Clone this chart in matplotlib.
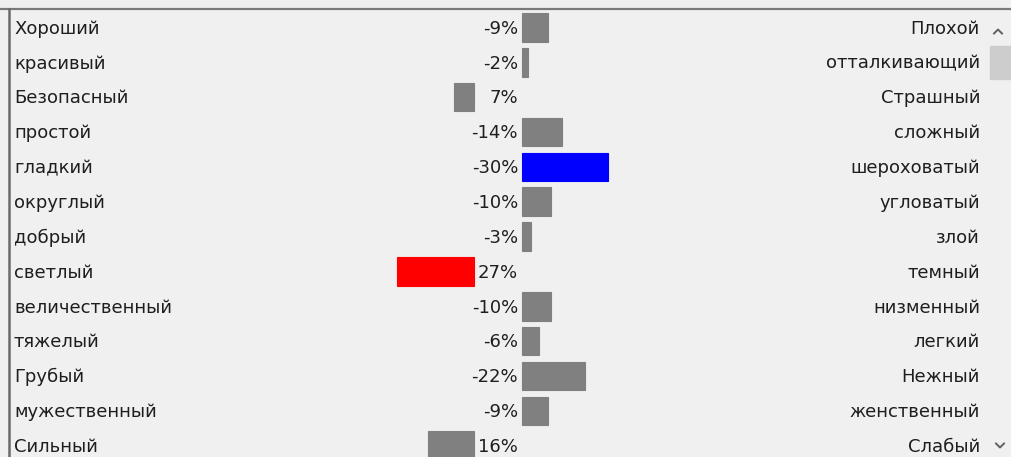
import numpy as np
import matplotlib.pyplot as plt
from matplotlib.transforms import blended_transform_factory

left_labels = ["Хороший", "красивый", "Безопасный", "простой", "гладкий", "округлый",
               "добрый", "светлый", "величественный", "тяжелый", "Грубый",
               "мужественный", "Сильный"]
right_labels = ["Плохой", "отталкивающий", "Страшный", "сложный", "шероховатый",
                "угловатый", "злой", "темный", "низменный", "легкий", "Нежный",
                "женственный", "Слабый"]
values = [-9, -2, 7, -14, -30, -10, -3, 27, -10, -6, -22, -9, 16]

W, H = 1011, 457
BG = "#f0f0f0"
GAP = 17  # space (in %) between positive bars and the zero line, holds the label

fig = plt.figure(figsize=(W / 100, H / 100), dpi=100, facecolor=BG)

# main list box area: pixel x 9..985, y 9..457
ax = fig.add_axes([9 / W, 0, (985 - 9) / W, (H - 9) / H], facecolor=BG)
px = 2.85  # pixels per percent
ax.set_xlim(-(522 - 9) / px, (985 - 522) / px)
pitch = 34.85
ax.set_ylim((H - 27.5) / pitch, -(27.5 - 9) / pitch)
for s in ax.spines.values():
    s.set_visible(False)
ax.set_xticks([])
ax.set_yticks([])

vals = np.array(values)
rows = np.arange(len(vals))
colors = []
for v in vals:
    if v == vals.min():
        colors.append("#0000ff")
    elif v == vals.max():
        colors.append("#ff0000")
    else:
        colors.append("#808080")

lefts = np.where(vals < 0, 0, -GAP - vals)
widths = np.abs(vals)
ax.barh(rows, widths, left=lefts, height=0.82, color=colors,
        edgecolor=colors, linewidth=0.8)

tr = blended_transform_factory(ax.transAxes, ax.transData)
font = dict(family="DejaVu Sans", fontsize=13, color="#1e1e1e")
for i, v in enumerate(vals):
    y = i + 0.18
    ax.text(5 / 976, y, left_labels[i], transform=tr, ha="left", va="baseline", **font)
    ax.text(971 / 976, y, right_labels[i], transform=tr, ha="right", va="baseline", **font)
    ax.text(-1.4, y, f"{v}%", ha="right", va="baseline", **font)

# frame of the list box
fig.add_artist(plt.Line2D([0, 1], [1 - 8.5 / H] * 2, color="#7a7a7a", lw=1.6,
                          transform=fig.transFigure))
fig.add_artist(plt.Line2D([9 / W] * 2, [0, 1 - 8.5 / H], color="#6a6a6a", lw=1.8,
                          transform=fig.transFigure))

# scrollbar
sb = fig.add_axes([985 / W, 0, (W - 985) / W, (H - 9.5) / H], facecolor="#f3f3f3")
sb.set_xlim(0, W - 985)
sb.set_ylim(H - 9.5, 0)
sb.axis("off")
sb.add_patch(plt.Rectangle((5, 36), 21, 33, color="#cdcdcd"))
sb.plot([9, 13, 17], [24, 20, 24], color="#606060", lw=1.4)
sb.plot([11, 15, 19], [434, 438, 434], color="#606060", lw=1.4)

fig.savefig("out.png", dpi=100, facecolor=BG)
